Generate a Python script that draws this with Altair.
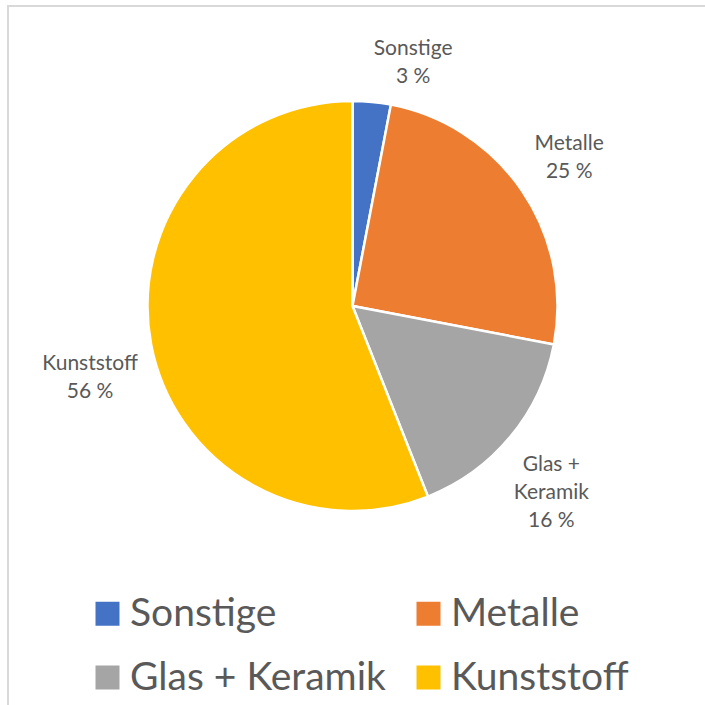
import altair as alt
import pandas as pd

categories = ["Sonstige", "Metalle", "Glas + Keramik", "Kunststoff"]
label_names = ["Sonstige", "Metalle", "Glas +\nKeramik", "Kunststoff"]
values = [3, 25, 16, 56]
colors = ["#4472C4", "#ED7D31", "#A5A5A5", "#FFC000"]

df = pd.DataFrame({
    "cat": categories,
    "lab": label_names,
    "value": values,
    "idx": list(range(len(categories))),
})
df["text"] = [f"{l}\n{v} %" for l, v in zip(label_names, values)]

FONT = "Lato"
TXT = "#595959"

# label nudges (style offsets, like Excel's best-fit placement)
nudges = {
    "Sonstige": (36, 4),
    "Metalle": (0, -15),
    "Glas + Keramik": (-3, -8),
    "Kunststoff": (-5, 9),
}

base = alt.Chart(df).encode(
    theta=alt.Theta("value:Q", stack=True),
    order=alt.Order("idx:Q"),
)

pie = base.mark_arc(radius=205, stroke="white", strokeWidth=2.5).encode(
    color=alt.Color(
        "cat:N",
        scale=alt.Scale(domain=categories, range=colors),
        sort=categories,
        legend=alt.Legend(
            title=None,
            orient="none",
            legendX=88,
            legendY=594,
            direction="horizontal",
            columns=2,
            columnPadding=23,
            rowPadding=24,
            symbolType="square",
            symbolSize=576,
            symbolStrokeWidth=0,
            labelFont=FONT,
            labelFontSize=39,
            labelColor=TXT,
            labelOffset=3,
            labelLimit=400,
        ),
    )
)

label_layers = []
for c in categories:
    dx, dy = nudges[c]
    label_layers.append(
        base.mark_text(
            radius=262, font=FONT, fontSize=21, color=TXT, lineBreak="\n",
            lineHeight=28, align="center", baseline="middle", dx=dx, dy=dy,
        ).encode(
            text="text:N",
            opacity=alt.condition(alt.datum.cat == c, alt.value(1), alt.value(0)),
        )
    )

border = alt.Chart(pd.DataFrame({"a": [0]})).mark_rect(
    fill=None, stroke="#d9d9d9", strokeWidth=2
).encode(x=alt.value(8), y=alt.value(6), x2=alt.value(760), y2=alt.value(760))

chart = alt.layer(border, pie, *label_layers).properties(
    width=705, height=612,
    padding={"left": 0, "top": 0, "right": 0, "bottom": 93},
    autosize=alt.AutoSizeParams(type="none"),
    background="white",
).configure_view(stroke=None)

chart.save("out.html", embed_options={"renderer": "svg", "actions": False})
